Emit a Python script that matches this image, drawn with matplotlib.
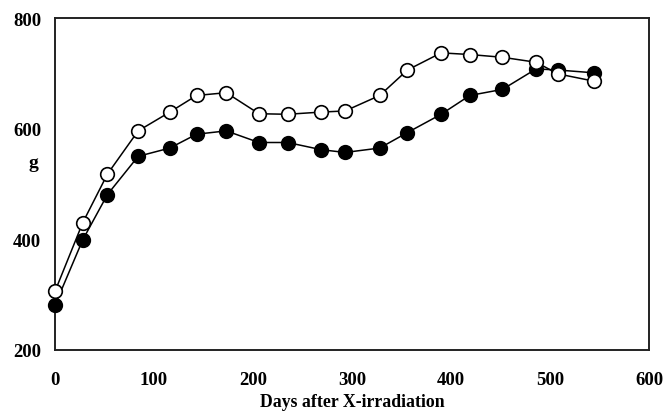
import matplotlib.pyplot as plt

days = [0, 28, 53, 84, 116, 143, 173, 206, 235, 269, 293, 328, 356, 390, 419, 452, 486, 508, 544]
open_g = [306, 430, 518, 596, 630, 660, 665, 627, 626, 630, 632, 660, 706, 737, 734, 729, 720, 699, 686]
filled_g = [281, 399, 481, 550, 565, 590, 596, 575, 575, 562, 557, 565, 593, 626, 660, 671, 708, 706, 701]

xticks = [0, 100, 200, 300, 400, 500, 600]
yticks = [200, 400, 600, 800]

plt.rcParams['font.family'] = ['Liberation Serif', 'DejaVu Serif']
plt.rcParams['font.weight'] = 'bold'

fig = plt.figure(figsize=(6.64, 4.14), dpi=100)
ax = fig.add_axes([55/664, 1 - 351/414, 594/664, 332/414])

ax.plot(days, filled_g, '-o', color='black', markerfacecolor='black', markeredgecolor='black',
        markersize=9.8, linewidth=1.1, markeredgewidth=1.2, zorder=3, clip_on=False)
ax.plot(days, open_g, '-o', color='black', markerfacecolor='white', markeredgecolor='black',
        markersize=9.8, linewidth=1.1, markeredgewidth=1.2, zorder=4, clip_on=False)

ax.set_xlim(0, 600)
ax.set_ylim(200, 800)
ax.set_xticks(xticks)
ax.set_yticks(yticks)
ax.tick_params(axis='x', length=0, pad=15, labelsize=13.5)
ax.tick_params(axis='y', length=0, pad=10, labelsize=13.5)
for lab in ax.get_xticklabels() + ax.get_yticklabels():
    lab.set_fontweight('bold')

for sp in ax.spines.values():
    sp.set_linewidth(1.4)
    sp.set_color('#222222')

ax.set_xlabel('Days after X-irradiation', fontsize=12.8, fontweight='bold', labelpad=4)
ax.set_ylabel('g', rotation=0, fontsize=14, fontweight='bold', va='center', ha='center')
ax.yaxis.set_label_coords(-0.037, 0.566)

fig.savefig('out.png', dpi=100)
